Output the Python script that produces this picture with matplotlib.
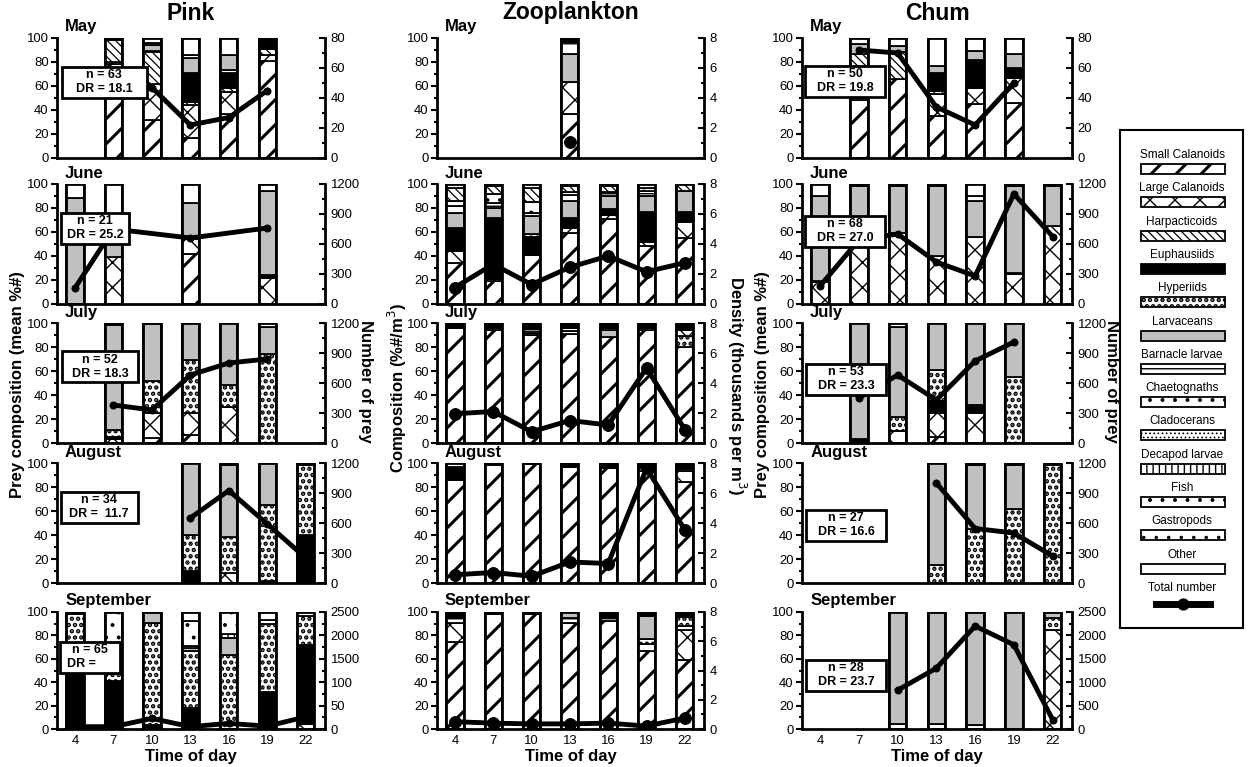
import numpy as np
import matplotlib.pyplot as plt
from matplotlib.patches import Rectangle

plt.rcParams['font.family'] = ['Liberation Sans', 'DejaVu Sans']

# the picture is drawn at 75 dpi so that hatch cells come out at the
# reference's spacing; S converts "100 dpi points" to real points
DPI = 75
S = 100 / DPI

nan = np.nan
TIMES = [4, 7, 10, 13, 16, 19, 22]

CATEGORIES = ['Small Calanoids', 'Large Calanoids', 'Harpacticoids', 'Euphausiids',
              'Hyperiids', 'Larvaceans', 'Barnacle larvae', 'Chaetognaths',
              'Cladocerans', 'Decapod larvae', 'Fish', 'Gastropods', 'Other']

# facecolor, hatch, hatch linewidth
STYLES = {
    'Small Calanoids': ('white', '/', 2.2),
    'Large Calanoids': ('white', 'x', 1.0),
    'Harpacticoids': ('white', '\\\\\\', 0.9),
    'Euphausiids': ('black', '', 1.0),
    'Hyperiids': ('white', '..', 2.2),
    'Larvaceans': ('#c0c0c0', '', 1.0),
    'Barnacle larvae': ('white', '-', 1.0),
    'Chaetognaths': ('white', '.', 1.0),
    'Cladocerans': ('white', '...', 0.7),
    'Decapod larvae': ('white', '||', 1.0),
    'Fish': ('white', '.', 1.0),
    'Gastropods': ('white', '.', 0.7),
    'Other': ('white', '', 1.0),
}

# ---------------- Pink ----------------
PINK_MAY = {
    'Small Calanoids': [0, 78, 32, 17, 37, 81, 0],
    'Large Calanoids': [0, 2, 30, 27, 18, 5, 0],
    'Harpacticoids': [0, 18, 26, 3, 3, 5, 0],
    'Euphausiids': [0, 2, 1, 24, 13, 9, 0],
    'Hyperiids': [0, 0, 0, 0, 2, 0, 0],
    'Larvaceans': [0, 0, 5, 12, 13, 0, 0],
    'Chaetognaths': [0, 0, 2, 3, 0, 0, 0],
    'Other': [0, 0, 4, 14, 14, 0, 0],
}
PINK_MAY_TOTAL = [nan, 55, 47, 22, 27, 45, nan]

PINK_JUNE = {
    'Small Calanoids': [0, 0, 0, 42, 0, 0, 0],
    'Large Calanoids': [0, 39, 0, 12, 0, 22, 0],
    'Euphausiids': [0, 0, 0, 0, 0, 2, 0],
    'Larvaceans': [88, 31, 0, 30, 0, 70, 0],
    'Other': [12, 30, 0, 16, 0, 6, 0],
}
PINK_JUNE_TOTAL = [160, 750, nan, 660, nan, 760, nan]

PINK_JULY = {
    'Small Calanoids': [0, 0, 4, 7, 0, 0, 0],
    'Large Calanoids': [0, 3, 21, 18, 30, 0, 0],
    'Euphausiids': [0, 2, 0, 0, 0, 0, 0],
    'Hyperiids': [0, 6, 27, 44, 18, 74, 0],
    'Larvaceans': [0, 87, 47, 31, 52, 23, 0],
    'Other': [0, 2, 1, 0, 0, 3, 0],
}
PINK_JULY_TOTAL = [nan, 380, 330, 680, 800, 840, nan]

PINK_AUG = {
    'Large Calanoids': [0, 0, 0, 0, 8, 2, 0],
    'Euphausiids': [0, 0, 0, 10, 0, 0, 40],
    'Hyperiids': [0, 0, 0, 30, 30, 63, 58],
    'Larvaceans': [0, 0, 0, 60, 60, 35, 0],
    'Other': [0, 0, 0, 0, 2, 0, 2],
}
PINK_AUG_TOTAL = [nan, nan, nan, 650, 925, 590, 250]

PINK_SEP = {
    'Large Calanoids': [0, 0, 0, 0, 0, 0, 4],
    'Euphausiids': [50, 41, 3, 18, 0, 32, 68],
    'Hyperiids': [48, 6, 88, 49, 63, 58, 25],
    'Larvaceans': [0, 0, 9, 2, 15, 0, 0],
    'Barnacle larvae': [0, 0, 0, 2, 0, 0, 0],
    'Decapod larvae': [0, 0, 0, 0, 3, 0, 0],
    'Fish': [0, 53, 0, 21, 19, 3, 0],
    'Other': [2, 0, 0, 8, 0, 7, 3],
}
PINK_SEP_TOTAL = [50, 50, 225, 50, 120, 60, 260]

# ---------------- Zooplankton ----------------
ZOO_MAY = {
    'Small Calanoids': [0, 0, 0, 37, 0, 0, 0],
    'Large Calanoids': [0, 0, 0, 26, 0, 0, 0],
    'Larvaceans': [0, 0, 0, 24, 0, 0, 0],
    'Barnacle larvae': [0, 0, 0, 10, 0, 0, 0],
    'Euphausiids': [0, 0, 0, 3, 0, 0, 0],
}
ZOO_MAY_TOTAL = [nan, nan, nan, 1.1, nan, nan, nan]

ZOO_JUNE = {
    'Small Calanoids': [34, 19, 41, 59, 71, 48, 55],
    'Large Calanoids': [10, 2, 0, 4, 3, 4, 13],
    'Euphausiids': [19, 51, 15, 9, 5, 25, 9],
    'Hyperiids': [0, 0, 2, 0, 0, 0, 0],
    'Larvaceans': [13, 8, 15, 14, 11, 13, 17],
    'Barnacle larvae': [6, 4, 3, 5, 3, 4, 0],
    'Fish': [4, 8, 9, 2, 0, 3, 0],
    'Harpacticoids': [11, 6, 12, 5, 5, 0, 6],
    'Other': [3, 2, 3, 2, 2, 3, 0],
}
ZOO_JUNE_TOTAL = [1.1, 2.65, 1.3, 2.45, 3.2, 2.15, 2.75]

ZOO_JULY = {
    'Small Calanoids': [96, 94, 90, 91, 88, 94, 80],
    'Hyperiids': [0, 0, 0, 0, 0, 0, 9],
    'Large Calanoids': [0, 0, 0, 0, 0, 0, 5],
    'Larvaceans': [0, 0, 2, 0, 6, 0, 0],
    'Barnacle larvae': [0, 2, 3, 2, 2, 2, 0],
    'Other': [0, 0, 0, 3, 0, 0, 0],
    'Euphausiids': [4, 4, 5, 4, 4, 4, 6],
}
ZOO_JULY_TOTAL = [1.95, 2.1, 0.75, 1.5, 1.2, 5.0, 0.9]

ZOO_AUG = {
    'Small Calanoids': [86, 98, 99, 97, 96, 93, 84],
    'Large Calanoids': [0, 0, 0, 0, 0, 0, 9],
    'Barnacle larvae': [0, 0, 0, 0, 0, 4, 2],
    'Euphausiids': [11, 2, 1, 3, 4, 3, 5],
    'Other': [3, 0, 0, 0, 0, 0, 0],
}
ZOO_AUG_TOTAL = [0.55, 0.7, 0.45, 1.4, 1.3, 7.65, 3.55]

ZOO_SEP = {
    'Small Calanoids': [74, 98, 98, 91, 92, 67, 59],
    'Large Calanoids': [17, 0, 0, 0, 0, 0, 26],
    'Barnacle larvae': [4, 0, 0, 4, 4, 6, 3],
    'Hyperiids': [0, 0, 0, 0, 0, 4, 8],
    'Larvaceans': [0, 0, 0, 5, 0, 20, 0],
    'Euphausiids': [5, 2, 2, 0, 4, 3, 4],
}
ZOO_SEP_TOTAL = [0.5, 0.4, 0.35, 0.35, 0.4, 0.2, 0.75]

# ---------------- Chum ----------------
CHUM_MAY = {
    'Small Calanoids': [0, 48, 66, 35, 45, 46, 0],
    'Large Calanoids': [0, 2, 0, 18, 13, 21, 0],
    'Harpacticoids': [0, 37, 22, 3, 0, 0, 0],
    'Euphausiids': [0, 0, 0, 15, 22, 8, 0],
    'Hyperiids': [0, 0, 0, 0, 2, 0, 0],
    'Larvaceans': [0, 8, 5, 6, 7, 12, 0],
    'Other': [0, 5, 7, 23, 11, 13, 0],
}
CHUM_MAY_TOTAL = [nan, 72, 70, 34, 22, 50, nan]

CHUM_JUNE = {
    'Large Calanoids': [18, 50, 59, 40, 56, 25, 65],
    'Euphausiids': [1, 0, 0, 0, 0, 1, 0],
    'Larvaceans': [71, 48, 39, 58, 30, 72, 33],
    'Barnacle larvae': [0, 0, 0, 0, 4, 0, 0],
    'Other': [10, 2, 2, 2, 10, 2, 2],
}
CHUM_JUNE_TOTAL = [180, 640, 700, 420, 280, 1100, 675]

CHUM_JULY = {
    'Small Calanoids': [0, 0, 0, 5, 0, 0, 0],
    'Large Calanoids': [0, 0, 10, 20, 25, 0, 0],
    'Euphausiids': [0, 3, 0, 10, 5, 0, 0],
    'Hyperiids': [0, 0, 12, 26, 2, 55, 0],
    'Larvaceans': [0, 97, 75, 39, 68, 45, 0],
    'Other': [0, 0, 3, 0, 0, 0, 0],
}
CHUM_JULY_TOTAL = [nan, 450, 680, 430, 820, 1010, nan]

CHUM_AUG = {
    'Hyperiids': [0, 0, 0, 15, 45, 62, 98],
    'Larvaceans': [0, 0, 0, 85, 53, 36, 0],
    'Other': [0, 0, 0, 0, 2, 2, 2],
}
CHUM_AUG_TOTAL = [nan, nan, nan, 1000, 545, 500, 270]

CHUM_SEP = {
    'Large Calanoids': [0, 0, 0, 0, 0, 0, 85],
    'Other': [0, 0, 4, 4, 3, 0, 0],
    'Hyperiids': [0, 0, 0, 0, 0, 0, 10],
    'Larvaceans': [0, 0, 96, 96, 97, 100, 5],
}
CHUM_SEP_TOTAL = [nan, nan, 830, 1300, 2200, 1800, 200]

MONTHS = ['May', 'June', 'July', 'August', 'September']
PINK_NOTES = ['n = 63\nDR = 18.1', 'n = 21\nDR = 25.2', 'n = 52\nDR = 18.3',
              'n = 34\nDR =  11.7', 'n = 65\nDR =     ']
CHUM_NOTES = ['n = 50\nDR = 19.8', 'n = 68\nDR = 27.0', 'n = 53\nDR = 23.3',
              'n = 27\nDR = 16.6', 'n = 28\nDR = 23.7']

W, H = 1250, 767
fig = plt.figure(figsize=(W / DPI, H / DPI), dpi=DPI)

COL_X = [(57, 325), (437, 704), (802, 1072)]
ROW_Y = [(38, 158), (184, 304), (323, 443), (463, 583), (612, 729)]
BAR_W = 1.35
# note boxes: centre x, centre y, width (pixels)
PINK_BOX = [(104, 82, 85), (95, 228, 68), (100, 367, 76), (99, 507, 77), (90, 657, 60)]
CHUM_BOX = [(845, 81, 80), (845, 231, 80), (846, 379, 80), (846, 525, 80), (846, 675, 80)]


def make_axes(col, row):
    x0, x1 = COL_X[col]
    y0, y1 = ROW_Y[row]
    return fig.add_axes([x0 / W, 1 - y1 / H, (x1 - x0) / W, (y1 - y0) / H])


def draw_panel(ax, comp, total, ymax, step, row, right_labels=None,
               zoo=False, note=None, box=None):
    x = np.array(TIMES, float)
    bottom = np.zeros(len(x))
    for cat, vals in comp.items():
        vals = np.array(vals, float)
        fc, hatch, hlw = STYLES[cat]
        m = vals > 0
        with plt.rc_context({'hatch.linewidth': hlw * S}):
            ax.bar(x[m], vals[m], BAR_W, bottom=bottom[m], color=fc,
                   hatch=hatch, edgecolor='black', linewidth=1.3 * S)
        bottom += vals
    has = bottom > 0
    ax.bar(x[has], bottom[has], BAR_W, fill=False, edgecolor='black', linewidth=2.0 * S)

    ax.set_xlim(2.6, 23.5)
    ax.set_ylim(0, 100)
    ax.set_yticks(range(0, 101, 20))
    ax.set_yticks(range(10, 100, 20), minor=True)
    ax.set_xticks(TIMES)
    ax.tick_params(axis='y', which='both', direction='out', width=1.5 * S,
                   labelsize=9.5 * S, pad=2 * S)
    ax.tick_params(axis='y', which='major', length=4 * S)
    ax.tick_params(axis='y', which='minor', length=2.5 * S)
    ax.tick_params(axis='x', length=0, labelsize=9.5 * S, pad=4 * S)
    if row < 4:
        ax.set_xticklabels([])
    for s in ['top', 'right']:
        ax.spines[s].set_visible(False)
    ax.spines['left'].set_linewidth(2 * S)
    ax.spines['bottom'].set_linewidth(2 * S)

    ax2 = ax.twinx()
    ax2.set_ylim(0, ymax)
    ticks = np.arange(0, ymax + 1e-9, step)
    ax2.set_yticks(ticks)
    ax2.set_yticks(ticks[:-1] + step / 2, minor=True)
    if right_labels is not None:
        ax2.set_yticklabels(right_labels)
    else:
        ax2.set_yticklabels([f'{t:g}' for t in ticks])
    ax2.tick_params(axis='y', which='both', direction='in', width=1.5 * S,
                    labelsize=9.5 * S, pad=4 * S)
    ax2.tick_params(axis='y', which='major', length=4 * S)
    ax2.tick_params(axis='y', which='minor', length=2.5 * S)
    for s in ['top', 'left', 'bottom']:
        ax2.spines[s].set_visible(False)
    ax2.spines['right'].set_linewidth(2 * S)

    t = np.array(total, float)
    k = ~np.isnan(t)
    ax2.plot(x[k], t[k], color='black', lw=3.5 * S, marker='o',
             ms=(8.5 if zoo else 5) * S, zorder=5)
    ax2.set_xlim(2.6, 23.5)

    ax.text(0.03, 1.0 + 11 / (ROW_Y[row][1] - ROW_Y[row][0]), MONTHS[row],
            transform=ax.transAxes, ha='left', va='center',
            fontsize=12 * S, fontweight='bold')
    if note is not None:
        cx, cy, bw = box
        bh = 31
        ax2.add_patch(Rectangle(((cx - bw / 2) / W, 1 - (cy + bh / 2) / H), bw / W, bh / H,
                                transform=fig.transFigure, facecolor='white',
                                edgecolor='black', linewidth=2 * S, zorder=9, clip_on=False))
        ax2.text(cx / W, 1 - cy / H, note, transform=fig.transFigure, ha='center',
                 va='center', fontsize=9 * S, fontweight='bold', linespacing=1.2,
                 zorder=10)


PINK = [PINK_MAY, PINK_JUNE, PINK_JULY, PINK_AUG, PINK_SEP]
PINK_TOT = [PINK_MAY_TOTAL, PINK_JUNE_TOTAL, PINK_JULY_TOTAL, PINK_AUG_TOTAL, PINK_SEP_TOTAL]
ZOO = [ZOO_MAY, ZOO_JUNE, ZOO_JULY, ZOO_AUG, ZOO_SEP]
ZOO_TOT = [ZOO_MAY_TOTAL, ZOO_JUNE_TOTAL, ZOO_JULY_TOTAL, ZOO_AUG_TOTAL, ZOO_SEP_TOTAL]
CHUM = [CHUM_MAY, CHUM_JUNE, CHUM_JULY, CHUM_AUG, CHUM_SEP]
CHUM_TOT = [CHUM_MAY_TOTAL, CHUM_JUNE_TOTAL, CHUM_JULY_TOTAL, CHUM_AUG_TOTAL, CHUM_SEP_TOTAL]

FISH_SCALE = [(80, 20), (1200, 300), (1200, 300), (1200, 300), (2500, 500)]
PINK_SEP_LABELS = ['0', '50', '100', '1500', '2000', '2500']

for r in range(5):
    ymax, step = FISH_SCALE[r]
    draw_panel(make_axes(0, r), PINK[r], PINK_TOT[r], ymax, step, r,
               right_labels=PINK_SEP_LABELS if r == 4 else None,
               note=PINK_NOTES[r], box=PINK_BOX[r])
    draw_panel(make_axes(1, r), ZOO[r], ZOO_TOT[r], 8, 2, r, zoo=True)
    draw_panel(make_axes(2, r), CHUM[r], CHUM_TOT[r], ymax, step, r,
               note=CHUM_NOTES[r], box=CHUM_BOX[r])

# column titles and axis labels
for (x0, x1), title in zip(COL_X, ['Pink', 'Zooplankton', 'Chum']):
    xc = (x0 + x1) / 2 / W
    fig.text(xc, 1 - 13 / H, title, ha='center', va='center',
             fontsize=16.5 * S, fontweight='bold')
    fig.text(xc, 1 - 757 / H, 'Time of day', ha='center', va='center',
             fontsize=12 * S, fontweight='bold')

LABEL = dict(ha='center', va='center', fontsize=12 * S, fontweight='bold')
fig.text(18 / W, 1 - 385 / H, 'Prey composition (mean %#)', rotation=90, **LABEL)
fig.text(762 / W, 1 - 385 / H, 'Prey composition (mean %#)', rotation=90, **LABEL)
fig.text(397 / W, 1 - 388 / H, 'Composition (%#/m$^3$)', rotation=90, **LABEL)
fig.text(737 / W, 1 - 385 / H, 'Density (thousands per m$^3$)', rotation=270, **LABEL)
fig.text(366 / W, 1 - 381 / H, 'Number of prey', rotation=270, **LABEL)
fig.text(1111 / W, 1 - 381 / H, 'Number of prey', rotation=270, **LABEL)

# legend: label above each swatch
lax = fig.add_axes([1120 / W, 1 - 628 / H, 123 / W, 498 / H])
lax.set_xlim(0, 123)
lax.set_ylim(498, 0)
lax.set_xticks([])
lax.set_yticks([])
for s in lax.spines.values():
    s.set_linewidth(1.5 * S)
for i, cat in enumerate(CATEGORIES + ['Total number']):
    ly = 25 + 33.3 * i
    lax.text(62, ly, cat, ha='center', va='center', fontsize=8.5 * S)
    if cat in STYLES:
        fc, hatch, hlw = STYLES[cat]
        with plt.rc_context({'hatch.linewidth': hlw * S}):
            lax.add_patch(Rectangle((21, ly + 9), 84, 10, facecolor=fc, hatch=hatch,
                                    edgecolor='black', linewidth=1.3 * S))
    else:
        lax.plot([36, 90], [ly + 16, ly + 16], color='black', lw=5 * S)
        lax.plot([63], [ly + 16], 'o', color='black', ms=8 * S)

fig.savefig('out.png', dpi=DPI)
